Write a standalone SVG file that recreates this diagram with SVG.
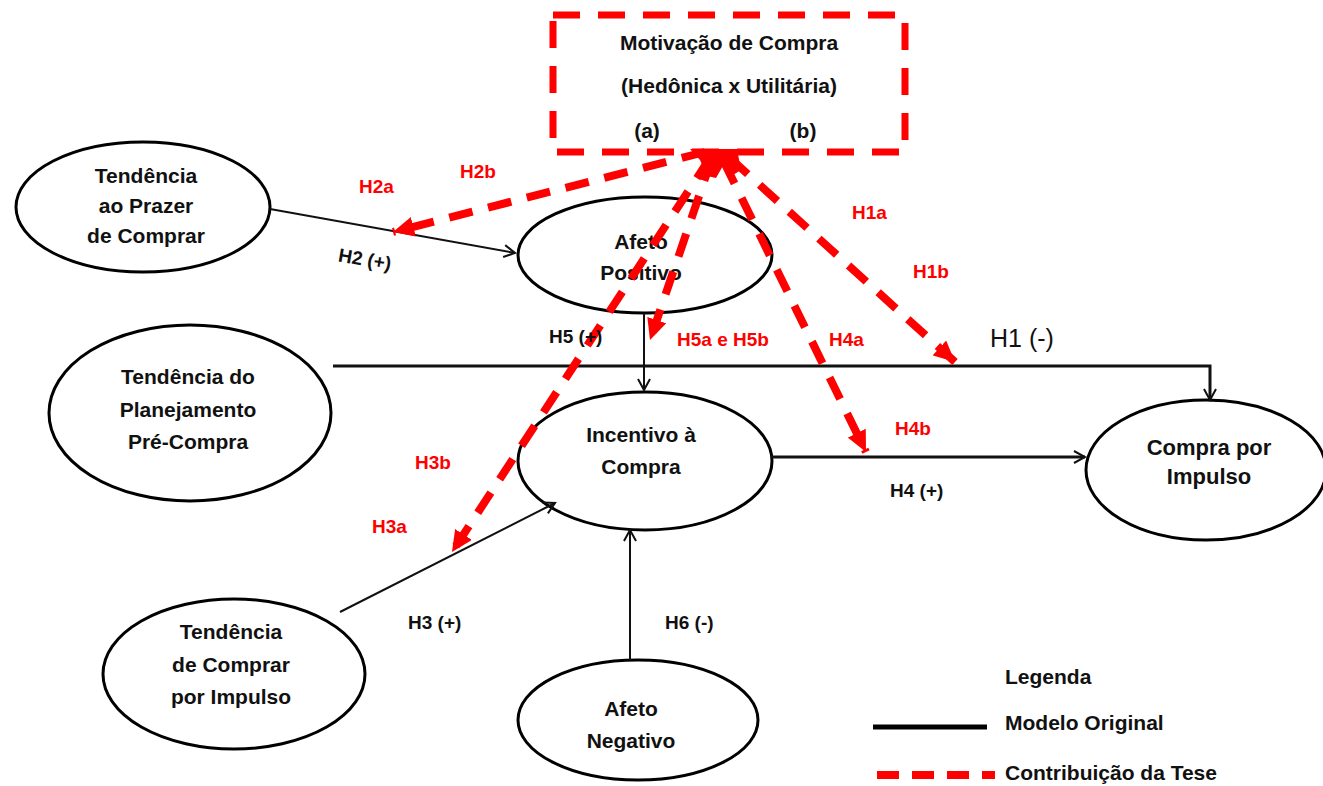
<svg xmlns="http://www.w3.org/2000/svg" width="1323" height="786" viewBox="0 0 1323 786">
<style>
text{font-family:"Liberation Sans",Arial,sans-serif;}
.node ellipse{fill:#fff;stroke:#000;stroke-width:3;}
.nt{font-size:21px;font-weight:bold;fill:#111;text-anchor:middle;}
.bl{font-size:19px;font-weight:bold;fill:#111;}
.rl{font-size:19px;font-weight:bold;fill:#ff0000;}
.conn{fill:none;stroke:#111;stroke-width:2;}
.red{fill:none;stroke:#ff0000;stroke-width:8;stroke-dasharray:24 16;}
</style>
<defs>
<marker id="oa" markerUnits="userSpaceOnUse" markerWidth="14" markerHeight="14" refX="12" refY="7" orient="auto">
<path d="M1,1 L12,7 L1,13" fill="none" stroke="#111" stroke-width="2"/>
</marker>
<marker id="ra" markerUnits="userSpaceOnUse" markerWidth="22" markerHeight="20" refX="21" refY="10" orient="auto">
<path d="M0,0 L21,10 L0,20 z" fill="#ff0000"/>
</marker>
</defs>
<rect width="1323" height="786" fill="#fff"/>

<g id="motivacao">
<rect x="553" y="15" width="352" height="137" fill="none" stroke="#ff0000" stroke-width="7" stroke-dasharray="27 18"/>
<text class="nt" x="729" y="50">Motivação de Compra</text>
<text class="nt" x="729" y="93">(Hedônica x Utilitária)</text>
<text class="nt" x="647" y="138">(a)</text>
<text class="nt" x="803" y="138">(b)</text>
</g>

<g id="prazer" class="node">
<ellipse cx="143" cy="207" rx="127" ry="65"/>
<text class="nt" x="146" y="183">Tendência</text>
<text class="nt" x="146" y="213">ao Prazer</text>
<text class="nt" x="146" y="243">de Comprar</text>
</g>

<g id="afeto-positivo" class="node">
<ellipse cx="645" cy="255" rx="127" ry="58"/>
<text class="nt" x="641" y="249">Afeto</text>
<text class="nt" x="641" y="280">Positivo</text>
</g>

<g id="planejamento" class="node">
<ellipse cx="190" cy="413" rx="141" ry="88"/>
<text class="nt" x="188" y="384">Tendência do</text>
<text class="nt" x="188" y="417">Planejamento</text>
<text class="nt" x="188" y="449">Pré-Compra</text>
</g>

<g id="incentivo" class="node">
<ellipse cx="645" cy="461" rx="127" ry="69"/>
<text class="nt" x="641" y="442">Incentivo à</text>
<text class="nt" x="641" y="474">Compra</text>
</g>

<g id="compra-impulso" class="node">
<ellipse cx="1206" cy="470" rx="120" ry="70"/>
<text class="nt" x="1209" y="455" style="font-size:22px">Compra por</text>
<text class="nt" x="1209" y="484" style="font-size:22px">Impulso</text>
</g>

<g id="tend-impulso" class="node">
<ellipse cx="234" cy="674" rx="131" ry="75"/>
<text class="nt" x="231" y="639">Tendência</text>
<text class="nt" x="231" y="672">de Comprar</text>
<text class="nt" x="231" y="704">por Impulso</text>
</g>

<g id="afeto-negativo" class="node">
<ellipse cx="638" cy="720" rx="120" ry="60"/>
<text class="nt" x="631" y="716">Afeto</text>
<text class="nt" x="631" y="748">Negativo</text>
</g>

<g id="connectors">
<path class="conn" d="M270,209 L515,253" marker-end="url(#oa)"/>
<path class="conn" d="M644,313 L644,390" marker-end="url(#oa)"/>
<path class="conn" style="stroke-width:3" d="M333,366 L1210,366 L1210,400" marker-end="url(#oa)"/>
<path class="conn" style="stroke-width:3" d="M771,457 L1085,457" marker-end="url(#oa)"/>
<path class="conn" d="M340,612 L555,503" marker-end="url(#oa)"/>
<path class="conn" d="M630,660 L630,530" marker-end="url(#oa)"/>

<path class="red" d="M705,152 L393,232" marker-end="url(#ra)"/>
<path class="red" d="M712,158 L650,340" marker-end="url(#ra)"/>
<path class="red" d="M710,158 L452,552" marker-end="url(#ra)"/>
<path class="red" d="M724,162 L866,452" marker-end="url(#ra)"/>
<path class="red" d="M730,158 L955,362" marker-end="url(#ra)"/>
<polygon points="690,149 737,149 741,170 733,175 724,164 716,178 707,176 700,160" fill="#ff0000"/>

<text class="bl" x="337" y="266" transform="rotate(10 365 266)">H2 (+)</text>
<text class="bl" x="549" y="343">H5 (+)</text>
<text x="990" y="347" style="font-size:25px;fill:#111">H1 (-)</text>
<text class="bl" x="890" y="497">H4 (+)</text>
<text class="bl" x="408" y="629">H3 (+)</text>
<text class="bl" x="665" y="629">H6 (-)</text>

<text class="rl" x="359" y="193">H2a</text>
<text class="rl" x="460" y="178">H2b</text>
<text class="rl" x="852" y="219">H1a</text>
<text class="rl" x="913" y="278">H1b</text>
<text class="rl" x="677" y="346">H5a e H5b</text>
<text class="rl" x="829" y="346">H4a</text>
<text class="rl" x="895" y="435">H4b</text>
<text class="rl" x="415" y="469">H3b</text>
<text class="rl" x="372" y="533">H3a</text>
</g>

<g id="legenda">
<text class="nt" x="1005" y="684" style="text-anchor:start">Legenda</text>
<line x1="873" y1="727" x2="987" y2="727" stroke="#000" stroke-width="5"/>
<text class="nt" x="1005" y="730" style="text-anchor:start">Modelo Original</text>
<line x1="877" y1="775" x2="995" y2="775" stroke="#ff0000" stroke-width="8" stroke-dasharray="22 13"/>
<text class="nt" x="1005" y="780" style="text-anchor:start">Contribuição da Tese</text>
</g>
</svg>
